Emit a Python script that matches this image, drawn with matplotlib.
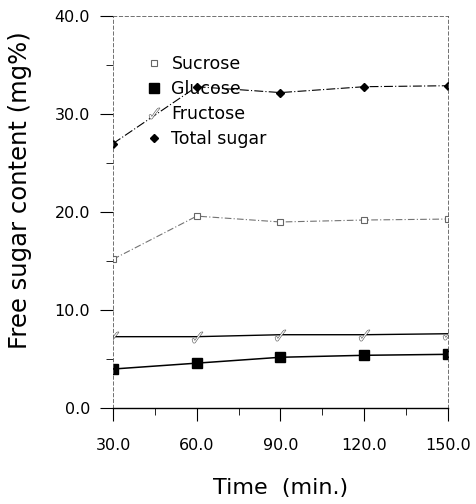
import matplotlib
matplotlib.use('Agg')
import matplotlib.pyplot as plt
from matplotlib.ticker import MultipleLocator

# --- data ---
time_min = [30, 60, 90, 120, 150]
sucrose = [15.2, 19.6, 19.0, 19.2, 19.3]
glucose = [4.0, 4.6, 5.2, 5.4, 5.5]
fructose = [7.3, 7.3, 7.5, 7.5, 7.6]
total_sugar = [27.0, 32.8, 32.2, 32.8, 32.9]

x_ticks = [30, 60, 90, 120, 150]
y_ticks = [0, 10, 20, 30, 40]

plt.rcParams['font.family'] = ['DejaVu Sans']

fig = plt.figure(figsize=(4.77, 5.04), dpi=100)
ax = fig.add_axes([0.237, 0.19, 0.702, 0.778])

ax.plot(time_min, sucrose, color='0.45', lw=0.8, ls=(0, (6, 2, 1, 2)),
        marker='s', ms=4, mfc='white', mec='0.4', mew=0.8, label='Sucrose')
ax.plot(time_min, glucose, color='black', lw=1.1, ls='-',
        marker='s', ms=7, mfc='black', mec='black', label='Glucose')
ax.plot(time_min, fructose, color='black', lw=1.0, ls='-',
        marker=r'$\checkmark$', ms=8, mfc='white', mec='0.3', mew=0.4, label='Fructose')
ax.plot(time_min, total_sugar, color='black', lw=0.8, ls=(0, (8, 2, 1, 2)),
        marker='D', ms=4, mfc='black', mec='black', label='Total sugar')

ax.set_xlim(30, 150)
ax.set_ylim(0, 40)
ax.set_xticks(x_ticks)
ax.set_xticklabels([f'{v:.1f}' for v in x_ticks])
ax.set_yticks(y_ticks)
ax.set_yticklabels([f'{v:.1f}' for v in y_ticks])
ax.xaxis.set_minor_locator(MultipleLocator(15))
ax.yaxis.set_minor_locator(MultipleLocator(5))

ax.tick_params(axis='both', which='major', direction='out', length=9.5, width=0.8,
               labelsize=11.5)
ax.tick_params(axis='x', which='major', pad=12)
ax.tick_params(axis='y', which='major', pad=7)
ax.tick_params(axis='both', which='minor', direction='out', length=5, width=0.6)

for side in ['top', 'right', 'left']:
    ax.spines[side].set_linestyle((0, (4, 3)))
    ax.spines[side].set_linewidth(0.6)
    ax.spines[side].set_color('0.35')
ax.spines['bottom'].set_linewidth(1.0)

ax.set_ylabel('Free sugar content (mg%)', fontsize=17.5)
ax.yaxis.set_label_coords(-0.242, 0.556)
ax.set_xlabel('Time  (min.)', fontsize=16, labelpad=18)

leg = ax.legend(loc='upper left', bbox_to_anchor=(0.05, 0.94), frameon=False,
                fontsize=12.5, handlelength=1.0, handletextpad=0.5, labelspacing=0.4)
for h in leg.legend_handles:
    h.set_linestyle('none')

fig.savefig('out.png', dpi=100)
